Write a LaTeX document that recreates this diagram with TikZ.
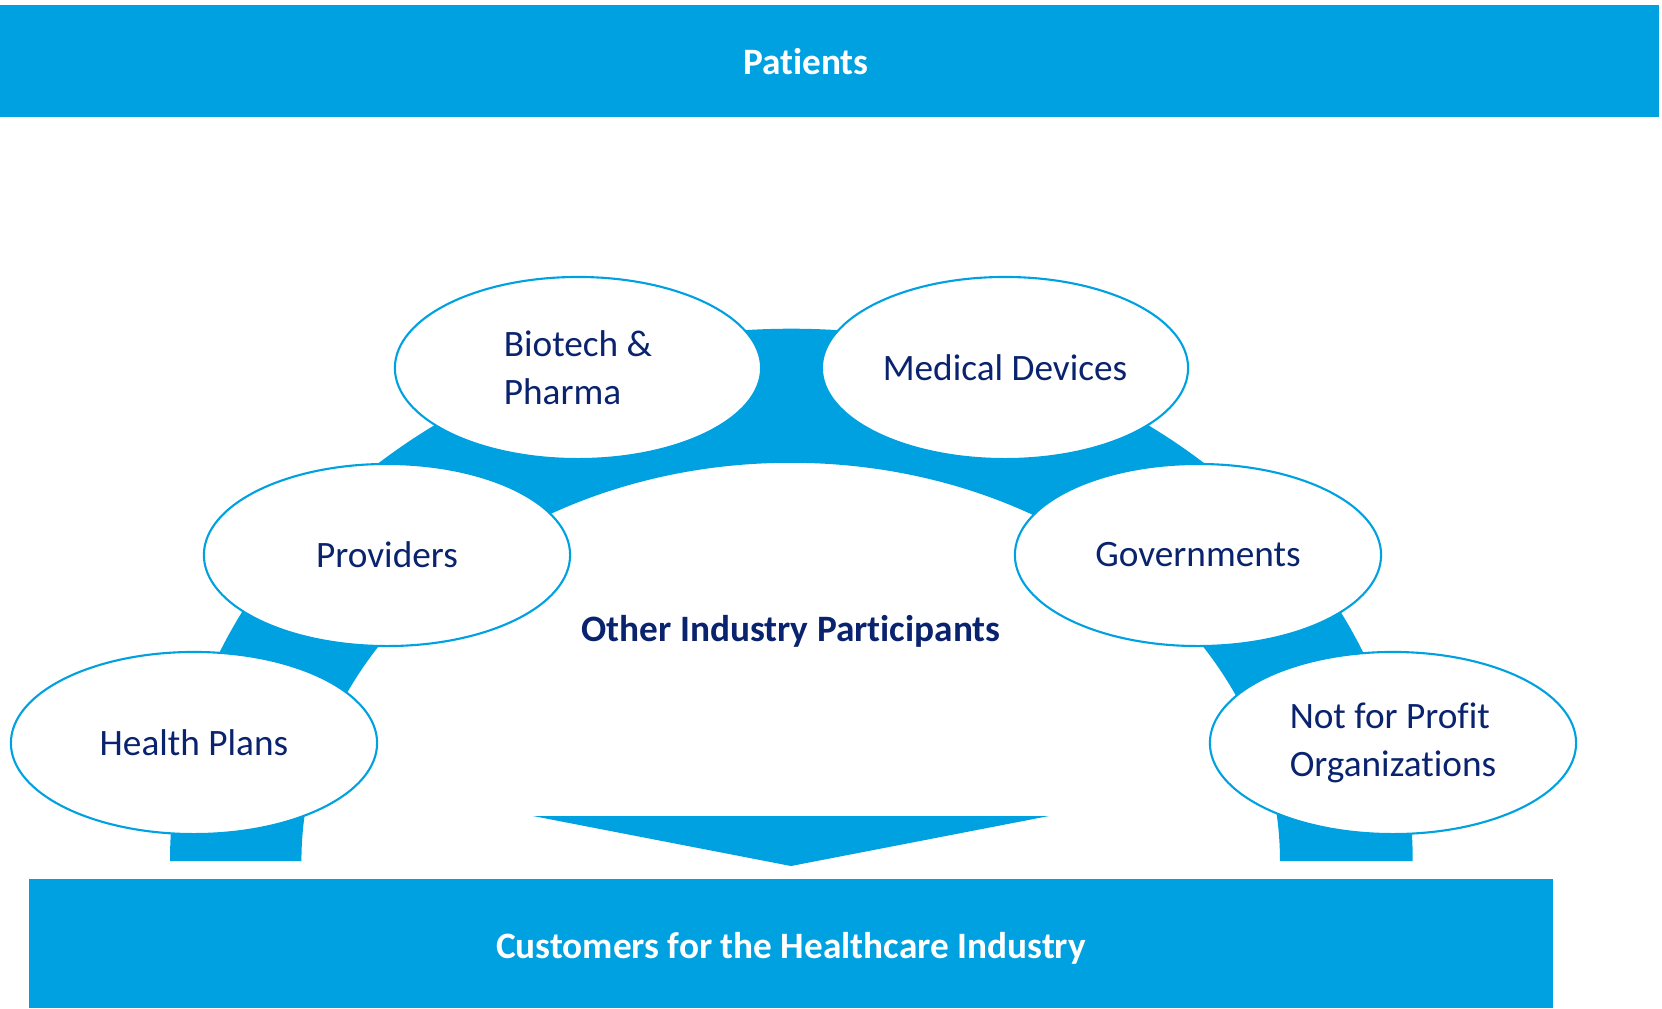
\documentclass[tikz,border=0pt]{standalone}
\usepackage{fontspec}
\setmainfont{Carlito}[Ligatures=NoCommon]
\usepackage{xcolor}
\usepackage{tikz}
\usetikzlibrary{shapes.geometric}

\definecolor{barblue}{RGB}{0,161,224}
\definecolor{textnavy}{RGB}{10,35,110}

\tikzset{
  partner/.style={ellipse, draw=barblue, line width=0.6pt, fill=white,
    minimum width=3.66cm, minimum height=1.82cm, inner sep=0pt,
    text=textnavy, font=\fontsize{10.6}{13.6}\selectfont, align=left},
  bartext/.style={text=white, font=\fontsize{10.6}{13.6}\selectfont\bfseries},
}

\begin{document}
\begin{tikzpicture}[x=0.01cm, y=-0.01cm]
\useasboundingbox (0,0) rectangle (1662,1008);

% Bars
\fill[barblue] (0,5) rectangle (1659,117);
\fill[barblue] (29,879) rectangle (1553,1008);
\node[bartext] (patients) at (806,62) {Patients};
\node[bartext] (customers) at (791,948) {Customers for the Healthcare Industry};

% Arch band
\fill[barblue] (170,861) arc[start angle=180, end angle=0, x radius=6.21cm, y radius=5.32cm]
  -- (1280,861) arc[start angle=0, end angle=180, x radius=4.89cm, y radius=3.98cm] -- cycle;

% Arrow into customers
\fill[barblue] (533,816) -- (1049,816) -- (791,866) -- cycle;

% Participants
\node[partner] (plans) at (194,743) {Health Plans};
\node[partner] (providers) at (387,555) {Providers};
\node[partner] (biotech) at (578,368) {Biotech \&\\Pharma};
\node[partner] (devices) at (1005,368) {Medical Devices};
\node[partner] (govts) at (1198,555) {Governments};
\node[partner] (nonprofit) at (1393,743) {Not for Profit\\Organizations};

% Label
\node[text=textnavy, font=\fontsize{10.6}{13.6}\selectfont\bfseries] (others) at (791,631) {Other Industry Participants};

\end{tikzpicture}
\end{document}
